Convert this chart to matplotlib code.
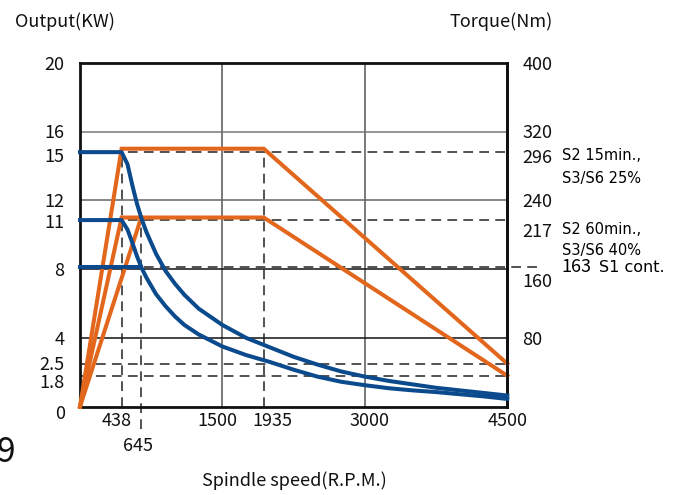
import matplotlib
matplotlib.use("Agg")
import matplotlib.pyplot as plt
import matplotlib.transforms as mtransforms

plt.rcParams['font.family'] = ['Noto Sans CJK JP', 'DejaVu Sans']
plt.rcParams['lines.scale_dashes'] = False

# ---------------- data ----------------
speed_ticks = [438, 645, 1500, 1935, 3000, 4500]
power_ticks = [0, 1.8, 2.5, 4, 8, 11, 12, 15, 16, 20]
torque_ticks = [80, 160, 217, 240, 296, 320, 400]

# output power curves (kW)
s2_15_speed = [0, 438, 1935, 4500]
s2_15_power = [0, 15, 15, 2.5]
s2_60_speed = [0, 438, 1935, 4500]
s2_60_power = [0, 11, 11, 1.8]
s1_speed = [0, 645]
s1_power = [0, 11]

# torque curves (Nm)
t15_speed = [0, 438, 500, 550, 600, 650, 700, 800, 900, 1000, 1100, 1250, 1500, 1750, 2000,
             2250, 2500, 2750, 3000, 3250, 3500, 3750, 4000, 4250, 4500]
t15_torque = [296, 296, 282, 258, 236, 218, 203, 178, 158, 143, 130, 114, 95, 80, 69,
              58, 49, 41, 35, 30, 26, 22, 19, 16, 13]
t60_speed = [0, 438, 500, 550, 600, 650, 700, 800, 900, 1000, 1100, 1250, 1500, 1750, 2000,
             2250, 2500, 2750, 3000, 3250, 3500, 3750, 4000, 4250, 4500]
t60_torque = [217, 217, 206, 191, 175, 161, 150, 131, 117, 105, 95, 84, 70, 60, 52,
              43, 35, 29, 25, 21.5, 19, 17, 14.5, 12, 9]
ts1_speed = [0, 645]
ts1_torque = [163, 163]

# reference levels
torque_levels = [296, 217, 163]
power_levels = [2.5, 1.8]
corner_speeds = [438, 645, 1935]

duty_labels = [("S2 15min.,", "S3/S6 25%"), ("S2 60min.,", "S3/S6 40%")]

ORANGE = '#e2661b'
BLUE = '#0b4a8c'
DASH = (7, 4.5)

fig = plt.figure(figsize=(6.74, 4.95), dpi=100)
W, H = 674, 495
x0, x1, y0, y1 = 80, 507.3, 406.7, 62.7
ax = fig.add_axes([x0 / W, 1 - y0 / H, (x1 - x0) / W, (y0 - y1) / H])
ax.set_xlim(0, 4500)
ax.set_ylim(0, 20)

# grid
for xv in [1500, 3000]:
    ax.axvline(xv, color='#555555', lw=1.1, zorder=1)
for yv, c in [(4, '#111111'), (8, '#111111'), (12, '#666666'), (16, '#777777')]:
    ax.axhline(yv, color=c, lw=1.1, zorder=1)

# dashed reference lines
t2p = 20 / 400
for i, tl in enumerate(torque_levels):
    xe = 4500 if i < 2 else 4880
    ax.plot([0, xe], [tl * t2p, tl * t2p], color='#222222', lw=1.1, dashes=DASH,
            zorder=2, clip_on=False)
for pl in power_levels:
    ax.plot([0, 4500], [pl, pl], color='#222222', lw=1.1, dashes=DASH, zorder=2)
ax.plot([corner_speeds[0]] * 2, [0, torque_levels[0] * t2p], color='#222222', lw=1.1, dashes=DASH, zorder=2)
ax.plot([corner_speeds[1]] * 2, [-1.3, torque_levels[1] * t2p], color='#222222', lw=1.1, dashes=DASH,
        zorder=2, clip_on=False)
ax.plot([corner_speeds[2]] * 2, [0, torque_levels[0] * t2p], color='#222222', lw=1.1, dashes=DASH, zorder=2)

# power curves
for sx, sy in [(s2_15_speed, s2_15_power), (s2_60_speed, s2_60_power), (s1_speed, s1_power)]:
    ax.plot(sx, sy, color=ORANGE, lw=2.9, zorder=3, solid_joinstyle='miter', clip_on=False)

# torque axis
ax2 = ax.twinx()
ax2.set_ylim(0, 400)
for sx, sy in [(t15_speed, t15_torque), (t60_speed, t60_torque), (ts1_speed, ts1_torque)]:
    ax2.plot(sx, sy, color=BLUE, lw=2.9, zorder=4, clip_on=False, solid_joinstyle='round')

for a in (ax, ax2):
    for s in a.spines.values():
        s.set_linewidth(2.0)
        s.set_color('#111111')
ax2.spines['left'].set_visible(False)
ax2.spines['top'].set_visible(False)
ax2.spines['bottom'].set_visible(False)

fs = 13
ax.set_xticks(speed_ticks)
ax.set_xticklabels([str(v) for v in speed_ticks])
ax.set_yticks(power_ticks)
ax.set_yticklabels([('%g' % v) for v in power_ticks])
ax.tick_params(axis='both', length=0, labelsize=fs, colors='#111111')
ax.tick_params(axis='x', pad=4)
ax.tick_params(axis='y', pad=11)
ax2.set_yticks(torque_ticks)
ax2.set_yticklabels([str(v) for v in torque_ticks])
ax2.tick_params(axis='y', length=0, labelsize=fs, pad=11, colors='#111111')


def shift(label, dx_px, dy_px):
    off = mtransforms.ScaledTranslation(dx_px / 100, -dy_px / 100, fig.dpi_scale_trans)
    label.set_transform(label.get_transform() + off)


xoff = {438: (-5, 0), 645: (-3, 25), 1500: (-5, 0), 1935: (9, 0), 3000: (5, 0), 4500: (0, 0)}
for v, lab in zip(speed_ticks, ax.get_xticklabels()):
    shift(lab, *xoff[v])
yoff = {15: 6, 11: 4, 2.5: -1, 1.8: 5, 0: 5}
for v, lab in zip(power_ticks, ax.get_yticklabels()):
    if v in yoff:
        shift(lab, 0, yoff[v])
toff = {296: 4, 217: 10, 160: 11}
for v, lab in zip(torque_ticks, ax2.get_yticklabels()):
    if v in toff:
        shift(lab, 0, toff[v])

# titles
fig.text(15 / W, 1 - 22 / H, "Output(KW)", fontsize=fs, va='center', ha='left', color='#111111')
fig.text(449 / W, 1 - 22 / H, "Torque(Nm)", fontsize=fs, va='center', ha='left', color='#111111')
fig.text(294 / W, 1 - 481 / H, "Spindle speed(R.P.M.)", fontsize=fs, va='center', ha='center', color='#111111')
fig.text(-3 / W, 1 - 452 / H, "9", fontsize=24, va='center', ha='left', color='#111111')

# duty labels
afs = 10.5
fig.text(562 / W, 1 - 156 / H, duty_labels[0][0], fontsize=afs, family='DejaVu Sans', va='center', ha='left')
fig.text(562 / W, 1 - 178 / H, duty_labels[0][1], fontsize=afs, family='DejaVu Sans', va='center', ha='left')
fig.text(562 / W, 1 - 230 / H, duty_labels[1][0], fontsize=afs, family='DejaVu Sans', va='center', ha='left')
fig.text(562 / W, 1 - 251 / H, duty_labels[1][1], fontsize=afs, family='DejaVu Sans', va='center', ha='left')
fig.text(561 / W, 1 - 267 / H, str(torque_levels[2]), fontsize=fs, va='center', ha='left')
fig.text(599 / W, 1 - 268 / H, "S1 cont.", fontsize=11.5, family='DejaVu Sans', va='center', ha='left')

fig.savefig("out.png", dpi=100)
